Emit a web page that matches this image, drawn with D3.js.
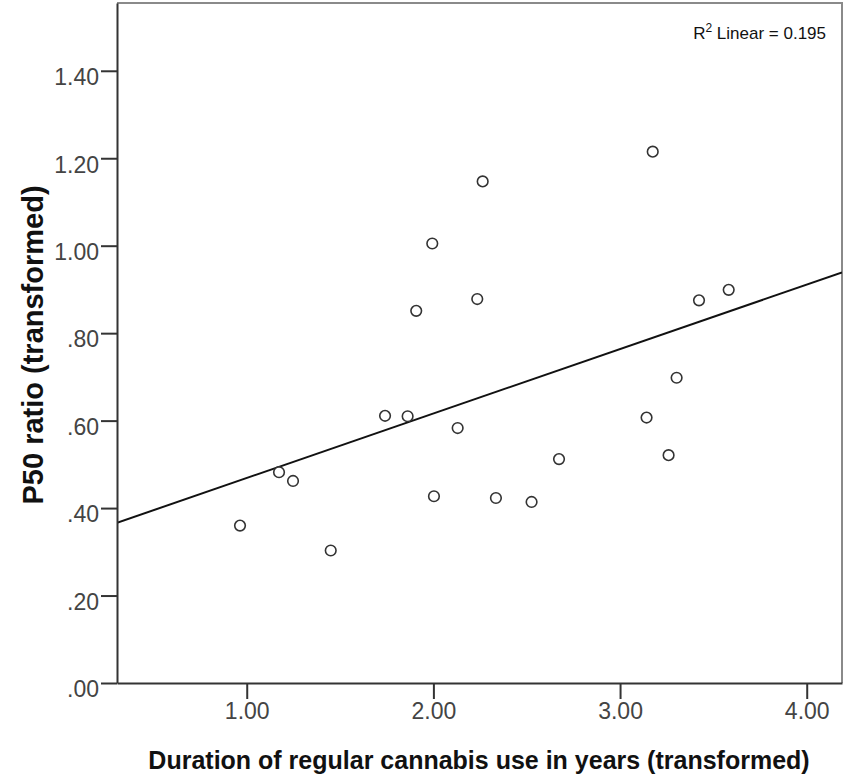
<!DOCTYPE html>
<html>
<head>
<meta charset="utf-8">
<script src="https://cdn.jsdelivr.net/npm/d3@7"></script>
<style>
  body { margin: 0; background: #fff; }
  text { font-family: 'Liberation Sans', Arial, sans-serif; }
</style>
</head>
<body>
<div id="chart"></div>
<script>
// duration of regular cannabis use (transformed)
var duration = [0.964, 1.173, 1.248, 1.450, 1.741, 1.862, 1.908, 1.994, 2.003, 2.130, 2.235,
  2.264, 2.335, 2.526, 2.673, 3.142, 3.175, 3.260, 3.303, 3.423, 3.582]
// P50 ratio (transformed)
var p50 = [0.360, 0.482, 0.462, 0.303, 0.611, 0.610, 0.851, 1.005, 0.427, 0.583, 0.878,
  1.147, 0.423, 0.414, 0.512, 0.607, 1.215, 0.521, 0.698, 0.875, 0.899]

var xTicks = [1, 2, 3, 4]
var yTicks = [0, 0.2, 0.4, 0.6, 0.8, 1.0, 1.2, 1.4]
var rSquaredLabel = '0.195'

var margin = {
  top: 3,
  right: 1,
  bottom: 96,
  left: 117
}

let width = 843 - margin.left - margin.right
let height = 779 - margin.top - margin.bottom

let svg = d3
  .select('#chart')
  .append('svg')
  .attr('width', width + margin.left + margin.right)
  .attr('height', height + margin.top + margin.bottom)
  .append('g')
  .attr('transform', 'translate(' + margin.left + ',' + margin.top + ')')

var xScale = d3.scaleLinear().domain([0.305, 4.189]).range([0, width])
var yScale = d3.scaleLinear().domain([0, 1.555]).range([height, 0])

var fmt = d3.format('.2f')
var tickFormat = d => fmt(d).replace(/^0\./, '.')

var datapoints = duration.map((d, i) => ({ x: d, y: p50[i] }))

// frame (top and right in grey)
svg
  .append('path')
  .attr('d', 'M0,0H' + width + 'V' + height)
  .attr('fill', 'none')
  .attr('stroke', '#8a8a8a')
  .attr('stroke-width', 2)

// least squares fit line
var mx = d3.mean(datapoints, d => d.x)
var my = d3.mean(datapoints, d => d.y)
var sxy = d3.sum(datapoints, d => (d.x - mx) * (d.y - my))
var sxx = d3.sum(datapoints, d => (d.x - mx) * (d.x - mx))
var slope = sxy / sxx
var intercept = my - slope * mx
var xd = xScale.domain()

svg
  .append('clipPath')
  .attr('id', 'clip')
  .append('rect')
  .attr('width', width)
  .attr('height', height)

svg
  .append('line')
  .attr('clip-path', 'url(#clip)')
  .attr('x1', xScale(xd[0]))
  .attr('y1', yScale(intercept + slope * xd[0]))
  .attr('x2', xScale(xd[1]))
  .attr('y2', yScale(intercept + slope * xd[1]))
  .attr('stroke', '#111')
  .attr('stroke-width', 2)

// axes
var xAxis = d3.axisBottom(xScale).tickValues(xTicks).tickFormat(tickFormat).tickSize(16).tickSizeOuter(0)
var yAxis = d3.axisLeft(yScale).tickValues(yTicks).tickFormat(tickFormat).tickSize(16).tickSizeOuter(0)

var gx = svg
  .append('g')
  .attr('transform', 'translate(0,' + height + ')')
  .call(xAxis)
var gy = svg.append('g').call(yAxis)

;[gx, gy].forEach(g => {
  g.select('.domain').attr('stroke', '#333').attr('stroke-width', 2)
  g.selectAll('.tick line').attr('stroke', '#333').attr('stroke-width', 2)
  g.selectAll('.tick text')
    .attr('font-size', 23)
    .attr('font-family', "'Liberation Sans', Arial, sans-serif")
    .attr('fill', '#444')
})
gx.selectAll('.tick text').attr('y', 20).attr('dy', '0.71em')
gy.selectAll('.tick text').attr('x', -18).attr('dy', '0.6em')

// points
svg
  .selectAll('.point')
  .data(datapoints)
  .enter()
  .append('circle')
  .attr('class', 'point')
  .attr('cx', d => xScale(d.x))
  .attr('cy', d => yScale(d.y))
  .attr('r', 5.3)
  .attr('fill', 'white')
  .attr('stroke', '#333')
  .attr('stroke-width', 1.6)

// R squared note
var note = svg
  .append('text')
  .attr('x', width - 16)
  .attr('y', 36)
  .attr('text-anchor', 'end')
  .attr('font-size', 17)
  .attr('fill', '#111')
note.append('tspan').text('R')
note.append('tspan').text('2').attr('font-size', 12).attr('dy', -7)
note.append('tspan').text(' Linear = ' + rSquaredLabel).attr('dy', 7)

// axis titles
svg
  .append('text')
  .attr('x', 479 - margin.left)
  .attr('y', 769 - margin.top)
  .attr('text-anchor', 'middle')
  .attr('font-size', 25)
  .attr('font-weight', 'bold')
  .attr('fill', '#111')
  .text('Duration of regular cannabis use in years (transformed)')

svg
  .append('text')
  .attr('transform', 'translate(' + (43 - margin.left) + ',' + (345 - margin.top) + ') rotate(-90)')
  .attr('text-anchor', 'middle')
  .attr('font-size', 29)
  .attr('font-weight', 'bold')
  .attr('fill', '#111')
  .text('P50 ratio (transformed)')
</script>
</body>
</html>
